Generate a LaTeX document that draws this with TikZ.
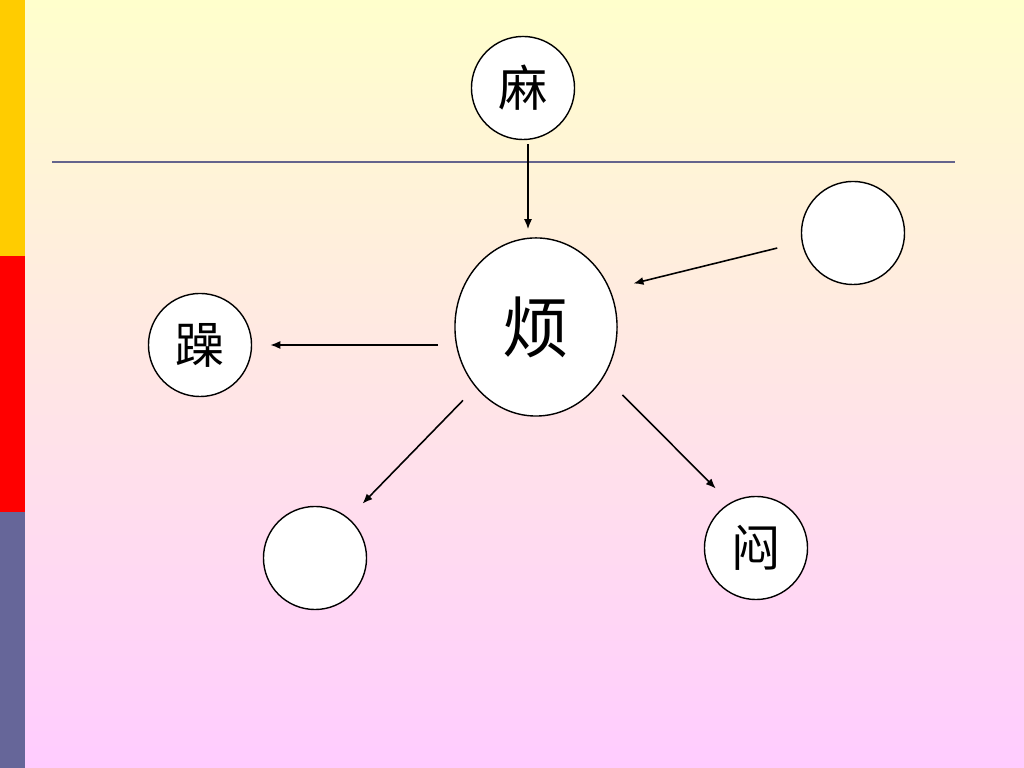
\documentclass[tikz,border=0pt]{standalone}
\usepackage{fontspec}
\newfontfamily\cjk{Noto Sans CJK SC}
\usetikzlibrary{shapes.geometric,arrows.meta}
\definecolor{bgtop}{RGB}{255,255,204}
\definecolor{bgbot}{RGB}{255,204,255}
\definecolor{baryel}{RGB}{255,204,0}
\definecolor{barred}{RGB}{255,0,0}
\definecolor{barslate}{RGB}{102,102,153}
\definecolor{rulecol}{RGB}{100,100,140}
\begin{document}
\begin{tikzpicture}[x=0.01cm,y=-0.01cm,
    circ/.style={draw,circle,fill=white,inner sep=0pt,minimum size=1.03cm,
      font=\cjk\fontsize{14}{14}\selectfont},
    bigcirc/.style={draw,ellipse,fill=white,inner sep=0pt,minimum width=1.62cm,
      minimum height=1.78cm,font=\cjk\fontsize{19}{19}\selectfont},
    link/.style={-{Latex[length=0.1cm,width=0.08cm]},line width=0.45pt}]
    \useasboundingbox (0,0) rectangle (1024,768);
    \shade[top color=bgtop,bottom color=bgbot] (0,0) rectangle (1024,768);
    \fill[baryel] (0,0) rectangle (25,256);
    \fill[barred] (0,256) rectangle (25,512);
    \fill[barslate] (0,512) rectangle (25,768);
    \draw[rulecol,line width=0.75pt] (52,162) -- (955,162);
    \node(ma) at (523,88) [circ] {麻};
    \node(fan) at (536,327) [bigcirc] {烦};
    \node(tr) at (853,233) [circ] {};
    \node(zao) at (200,345) [circ] {躁};
    \node(bl) at (315,558) [circ] {};
    \node(men) at (756,548) [circ] {闷};
    \draw[link,shorten <=0.04cm,shorten >=0.08cm] ([xshift=0.05cm]ma.south)
      -- ([xshift=0.05cm]ma.south |- fan.north);
    \draw[link,shorten <=0.25cm,shorten >=0.24cm] (tr.190) -- (fan.27);
    \draw[link,shorten <=0.16cm,shorten >=0.18cm] (fan.west |- zao.east) -- (zao.east);
    \draw[link,shorten <=0.18cm,shorten >=0.2cm] (fan.225) -- (bl.50);
    \draw[link,shorten <=0.26cm,shorten >=0.2cm] (fan.-36) -- (men.120);
\end{tikzpicture}
\end{document}
